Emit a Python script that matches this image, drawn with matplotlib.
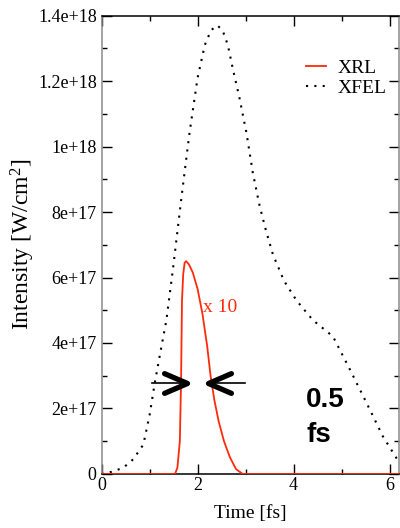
import numpy as np
import matplotlib
matplotlib.use('Agg')
import matplotlib.pyplot as plt
from matplotlib.markers import MarkerStyle

# XFEL pulse (dotted), time in fs, intensity in 1e18 W/cm^2
t_xfel = [0.0, 0.25, 0.46, 0.66, 0.87, 1.0, 1.11, 1.21, 1.35, 1.49, 1.66, 1.83, 2.0,
          2.15, 2.28, 2.41, 2.52, 2.63, 2.73, 2.87, 3.02, 3.15, 3.29, 3.43, 3.57,
          3.8, 4.06, 4.4, 4.82, 5.17, 5.51, 5.86, 6.2]
i_xfel = [0.0, 0.008, 0.02, 0.045, 0.09, 0.18, 0.28, 0.36, 0.47, 0.63, 0.84, 1.04, 1.21,
          1.31, 1.355, 1.37, 1.355, 1.31, 1.24, 1.15, 1.04, 0.92, 0.82, 0.74, 0.67,
          0.59, 0.53, 0.47, 0.42, 0.32, 0.22, 0.115, 0.035]

# XRL pulse (red, already multiplied by 10)
t_xrl = [0.0, 1.53, 1.58, 1.63, 1.655, 1.675, 1.70, 1.73, 1.76, 1.82, 1.90, 2.0, 2.1,
         2.2, 2.27, 2.35, 2.44, 2.55, 2.67, 2.8, 2.94, 6.2]
i_xrl = [0.0, 0.0, 0.02, 0.10, 0.28, 0.53, 0.61, 0.645, 0.65, 0.64, 0.615, 0.565, 0.49,
         0.39, 0.30, 0.225, 0.16, 0.10, 0.052, 0.015, 0.0, 0.0]

scale = 1e18
xticks = [0, 2, 4, 6]
yticks = [0, 2e17, 4e17, 6e17, 8e17, 1e18, 1.2e18, 1.4e18]
ytick_labels = ['0', '2e+17', '4e+17', '6e+17', '8e+17', '1e+18', '1.2e+18', '1.4e+18']

# width marker: arrows at the half height of the XRL pulse
arrow_y = 0.279e18
left_arrow = (1.04, 1.77)   # tail, tip
right_arrow = (2.98, 2.22)  # tail, tip

red = '#ff2a0a'
plt.rcParams['font.family'] = ['Liberation Serif', 'DejaVu Serif']
plt.rcParams['mathtext.fontset'] = 'custom'
plt.rcParams['mathtext.rm'] = 'Liberation Serif'
plt.rcParams['mathtext.it'] = 'Liberation Serif:italic'
plt.rcParams['mathtext.default'] = 'rm'

fig = plt.figure(figsize=(4.0, 5.28), dpi=100)
ax = fig.add_axes([0.254, 0.1023, 0.744, 0.8683])

ax.plot(t_xrl, np.array(i_xrl) * scale, color=red, lw=1.3, label='XRL', zorder=3)
ax.plot(t_xfel, np.array(i_xfel) * scale, color='black', lw=1.5,
        dashes=(1, 3), label='XFEL')

# arrows: thin shaft + thick open head
for tail, tip in [left_arrow, right_arrow]:
    ax.plot([tail, tip], [arrow_y, arrow_y], color='black', lw=1.2, zorder=4)
    d = 1 if tip > tail else -1
    head = MarkerStyle([(-d, 0.43), (0, 0), (-d, -0.43)],
                       capstyle='round', joinstyle='round')
    ax.plot([tip], [arrow_y], marker=head, ms=33, mew=3.8, mfc='none',
            mec='black', zorder=5)

ax.text(2.11, 0.495e18, 'x 10', color=red, fontsize=14)
ax.text(4.26, 0.205e18, '0.5', fontsize=20, fontweight='bold',
        family='Liberation Sans')
ax.text(4.26, 0.098e18, 'fs', fontsize=20, fontweight='bold',
        family='Liberation Sans')

ax.set_xlim(0, 6.2)
ax.set_ylim(0, 1.4e18)
ax.set_xticks(xticks)
ax.set_xticklabels([str(x) for x in xticks])
ax.set_xticks([1, 3, 5], minor=True)
ax.set_yticks(yticks)
ax.set_yticklabels(ytick_labels)
ax.set_yticks(np.arange(1e17, 1.4e18, 2e17), minor=True)
ax.tick_params(which='both', direction='in', top=True, right=True, labelsize=13)
ax.tick_params(which='major', length=7, width=1)
ax.tick_params(which='minor', length=3.5, width=1)
ax.tick_params(axis='y', pad=3.5)
ax.tick_params(axis='x', pad=2.5)

for side in ['left', 'right']:
    ax.spines[side].set_color('#8a8a8a')
for side in ['left', 'right', 'top', 'bottom']:
    ax.spines[side].set_linewidth(1.1)

ax.set_xlabel('Time [fs]', fontsize=14)
ax.xaxis.set_label_coords(0.5, -0.068)
ax.set_ylabel('Intensity [W/cm$^2$]', fontsize=17)
ax.yaxis.set_label_coords(-0.218, 0.5)

ax.legend(loc='upper left', bbox_to_anchor=(0.687, 0.905), frameon=False,
          borderpad=0, borderaxespad=0, handlelength=1.05, handletextpad=0.55,
          labelspacing=0.15, fontsize=14)

fig.savefig('out.png', dpi=100)
